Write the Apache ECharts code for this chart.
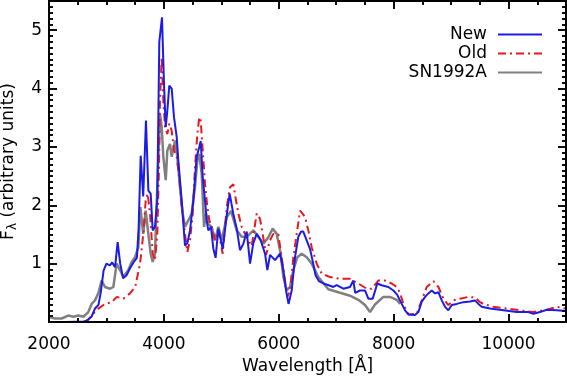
<!DOCTYPE html>
<html>
<head>
<meta charset="utf-8">
<script src="https://cdn.jsdelivr.net/npm/echarts@6/dist/echarts.min.js"></script>
</head>
<body style="margin:0">
<div id="chart" style="width:567px;height:376px"></div>
<script>
// New model spectrum
const newWave = [2000, 2300, 2600, 2650, 2740, 2800, 2860, 2900, 2950, 3000, 3060, 3100, 3150, 3195, 3240, 3290, 3350, 3410, 3470, 3530, 3560, 3596, 3640, 3688, 3730, 3770, 3805, 3845, 3885, 3920, 3967, 4002, 4032, 4060, 4094, 4136, 4176, 4223, 4251, 4310, 4367, 4408, 4455, 4512, 4571, 4616, 4641, 4676, 4716, 4745, 4773, 4820, 4860, 4900, 4948, 5024, 5094, 5145, 5209, 5268, 5325, 5383, 5442, 5500, 5557, 5616, 5685, 5761, 5801, 5848, 5935, 6022, 6080, 6126, 6170, 6225, 6283, 6340, 6390, 6427, 6486, 6544, 6600, 6640, 6700, 6776, 6870, 6950, 7008, 7124, 7240, 7298, 7330, 7414, 7501, 7559, 7635, 7716, 7792, 7908, 7995, 8060, 8140, 8198, 8256, 8372, 8430, 8489, 8547, 8604, 8663, 8721, 8779, 8837, 8895, 8952, 9011, 9098, 9213, 9330, 9417, 9475, 9533, 9678, 9910, 10142, 10345, 10432, 10548, 10665, 10838, 11000];
const newFlux = [0.0, 0.0, 0.01, 0.02, 0.09, 0.23, 0.29, 0.5, 0.88, 1.0, 0.97, 1.02, 0.94, 1.37, 1.0, 0.75, 0.8, 0.92, 1.02, 1.1, 1.6, 2.85, 2.15, 3.45, 2.25, 2.2, 1.57, 1.63, 2.1, 4.8, 5.22, 4.08, 3.34, 3.62, 4.05, 4.0, 3.51, 3.17, 2.77, 2.08, 1.31, 1.35, 1.57, 2.08, 2.83, 3.0, 3.1, 2.48, 2.08, 1.74, 1.57, 1.63, 1.26, 1.1, 1.6, 1.25, 1.83, 2.2, 1.85, 1.6, 1.23, 1.34, 1.55, 1.0, 1.35, 1.51, 1.4, 1.17, 0.89, 1.15, 1.06, 1.17, 0.89, 0.54, 0.31, 0.54, 1.11, 1.46, 1.55, 1.55, 1.4, 1.25, 1.0, 0.8, 0.7, 0.66, 0.63, 0.6, 0.63, 0.57, 0.6, 0.71, 0.5, 0.54, 0.54, 0.4, 0.4, 0.66, 0.63, 0.6, 0.54, 0.47, 0.31, 0.2, 0.13, 0.12, 0.17, 0.35, 0.43, 0.49, 0.54, 0.49, 0.51, 0.37, 0.26, 0.2, 0.29, 0.31, 0.34, 0.35, 0.37, 0.31, 0.26, 0.23, 0.2, 0.17, 0.17, 0.14, 0.17, 0.21, 0.2, 0.19];

// Old model spectrum
const oldWave = [2000, 2600, 2680, 2740, 2860, 2975, 3090, 3180, 3294, 3410, 3500, 3585, 3641, 3683, 3718, 3758, 3805, 3845, 3885, 3915, 3932, 3962, 3990, 4020, 4060, 4094, 4136, 4176, 4223, 4268, 4310, 4367, 4408, 4455, 4502, 4542, 4582, 4616, 4641, 4676, 4716, 4756, 4791, 4832, 4890, 4948, 5024, 5094, 5151, 5209, 5256, 5296, 5354, 5412, 5470, 5528, 5616, 5673, 5720, 5778, 5848, 5905, 5992, 6050, 6091, 6149, 6196, 6254, 6312, 6370, 6399, 6457, 6515, 6573, 6660, 6747, 6892, 7066, 7240, 7385, 7530, 7617, 7733, 7850, 7966, 8053, 8110, 8169, 8256, 8401, 8489, 8576, 8692, 8779, 8866, 8952, 9040, 9156, 9301, 9417, 9504, 9562, 9736, 9968, 10200, 10432, 10665, 10838, 11000];
const oldFlux = [0.0, 0.0, 0.03, 0.11, 0.23, 0.31, 0.34, 0.43, 0.4, 0.49, 0.6, 1.0, 1.5, 2.08, 2.2, 1.86, 1.17, 1.06, 1.51, 2.65, 3.8, 4.54, 3.8, 3.34, 3.22, 3.4, 3.28, 2.94, 2.83, 2.48, 1.97, 1.51, 1.2, 1.4, 1.86, 2.65, 3.22, 3.51, 3.45, 2.94, 2.37, 1.97, 1.74, 1.63, 1.4, 1.57, 1.17, 1.97, 2.31, 2.36, 2.08, 1.86, 1.63, 1.51, 1.4, 1.3, 1.86, 1.77, 1.51, 1.15, 1.4, 1.51, 1.5, 1.11, 0.83, 0.43, 0.54, 1.11, 1.51, 1.91, 1.91, 1.8, 1.57, 1.28, 1.0, 0.83, 0.77, 0.74, 0.74, 0.66, 0.57, 0.57, 0.71, 0.71, 0.66, 0.6, 0.5, 0.31, 0.13, 0.14, 0.37, 0.6, 0.7, 0.6, 0.4, 0.29, 0.37, 0.4, 0.43, 0.42, 0.34, 0.31, 0.26, 0.23, 0.2, 0.17, 0.21, 0.26, 0.23];

// SN1992A observed spectrum
const obsWave = [2000, 2100, 2220, 2336, 2423, 2510, 2597, 2684, 2742, 2800, 2858, 2917, 2975, 3062, 3120, 3178, 3236, 3294, 3381, 3439, 3497, 3555, 3590, 3641, 3683, 3729, 3770, 3805, 3845, 3885, 3932, 3962, 3990, 4032, 4060, 4106, 4136, 4194, 4234, 4280, 4327, 4367, 4425, 4484, 4542, 4582, 4616, 4658, 4699, 4734, 4773, 4832, 4890, 4948, 5006, 5094, 5170, 5268, 5354, 5442, 5557, 5645, 5731, 5818, 5894, 5964, 6033, 6080, 6138, 6196, 6254, 6323, 6399, 6486, 6573, 6689, 6863, 7066, 7240, 7385, 7501, 7588, 7675, 7820, 7937, 8053, 8111];
const obsFlux = [0.09, 0.06, 0.06, 0.11, 0.09, 0.11, 0.09, 0.17, 0.31, 0.37, 0.49, 0.71, 0.6, 0.57, 0.6, 1.0, 0.89, 0.77, 0.89, 1.03, 1.11, 1.28, 1.97, 1.51, 1.91, 1.51, 1.17, 1.03, 1.17, 2.31, 3.57, 3.34, 2.83, 2.43, 2.94, 3.05, 2.83, 3.11, 2.83, 2.31, 1.86, 1.63, 1.74, 1.86, 2.31, 2.77, 2.88, 2.54, 1.63, 1.86, 1.68, 1.63, 1.4, 1.63, 1.4, 1.8, 1.9, 1.57, 1.46, 1.46, 1.57, 1.46, 1.34, 1.45, 1.6, 1.51, 1.17, 0.77, 0.54, 0.6, 0.89, 1.11, 1.17, 1.11, 1.0, 0.77, 0.56, 0.5, 0.45, 0.38, 0.29, 0.17, 0.3, 0.43, 0.43, 0.38, 0.31];

const xTicks = [2000, 11000, 2000]; // min, max, step
const yTicks = [0, 5.5, 1];

const zip = (a, b) => a.map((v, i) => [v, b[i]]);
const font = "DejaVu Sans";

const frame = { show: true, onZero: false, lineStyle: { color: "#000", width: 2 } };
const mk = () => ({ show: true, inside: true, length: 8, lineStyle: { color: "#000", width: 1.5 } });
const mn = (n) => ({ show: true, splitNumber: n, length: 4, lineStyle: { color: "#000", width: 1.5 } });

// second grid on the same rect, axes only, carries the tick marks
const tickAxis = (pos, range, n, grid) => ({
	type: "value", gridIndex: grid, position: pos, z: 10,
	min: range[0], max: range[1], interval: range[2],
	axisLine: { show: true, onZero: false, lineStyle: { color: "#000", width: 2 } },
	axisTick: mk(), minorTick: mn(n), splitLine: { show: false },
	axisLabel: { show: false },
});

const chart = echarts.init(document.getElementById("chart"));

const option = {
	animation: false,
	grid: [
		{ left: 49, right: 1, top: 1, bottom: 54, outerBoundsMode: "none" },
		{ left: 49, right: 1, top: 1, bottom: 54, outerBoundsMode: "none" },
	],
	legend: {
		orient: "vertical",
		right: 19,
		top: 21,
		align: "right",
		itemWidth: 44,
		itemHeight: 2,
		itemGap: 2,
		itemStyle: { opacity: 0 },
		textStyle: { fontFamily: font, fontSize: 17, color: "#000", padding: [0, 6, 0, 0] },
		data: ["New", "Old", "SN1992A"],
	},
	xAxis: [
		{
			type: "value", gridIndex: 0, min: xTicks[0], max: xTicks[1], interval: xTicks[2], position: "bottom",
			axisLine: frame, axisTick: mk(), minorTick: mn(4), splitLine: { show: false },
			axisLabel: { fontFamily: font, fontSize: 17, color: "#000", margin: 14, showMaxLabel: false, formatter: (v) => String(v) },
			name: "Wavelength [Å]",
			nameLocation: "middle",
			nameGap: 32,
			nameTextStyle: { fontFamily: font, fontSize: 17, color: "#000" },
		},
		{
			type: "value", gridIndex: 0, min: xTicks[0], max: xTicks[1], interval: xTicks[2], position: "top",
			axisLine: frame, axisTick: mk(), minorTick: mn(4), splitLine: { show: false },
			axisLabel: { show: false },
		},
		tickAxis("bottom", xTicks, 4, 1),
		tickAxis("top", xTicks, 4, 1),
	],
	yAxis: [
		{
			type: "value", gridIndex: 0, min: yTicks[0], max: yTicks[1], interval: yTicks[2], position: "left",
			axisLine: frame, axisTick: mk(), minorTick: mn(10), splitLine: { show: false },
			axisLabel: { fontFamily: font, fontSize: 17, color: "#000", margin: 7, showMinLabel: false, showMaxLabel: false, formatter: (v) => String(v) },
			name: "F{sub|λ} (arbitrary units)",
			nameLocation: "middle",
			nameGap: 30,
			nameTextStyle: {
				fontFamily: font, fontSize: 17, color: "#000",
				rich: { sub: { fontFamily: font, fontSize: 12, padding: [8, 0, 0, 0] } },
			},
		},
		{
			type: "value", gridIndex: 0, min: yTicks[0], max: yTicks[1], interval: yTicks[2], position: "right",
			axisLine: frame, axisTick: mk(), minorTick: mn(10), splitLine: { show: false },
			axisLabel: { show: false },
		},
		tickAxis("left", yTicks, 10, 1),
		tickAxis("right", yTicks, 10, 1),
	],
	series: [
		{
			name: "SN1992A",
			type: "line",
			xAxisIndex: 0,
			yAxisIndex: 0,
			symbol: "none",
			data: zip(obsWave, obsFlux),
			itemStyle: { color: "#808080" },
			lineStyle: { color: "#808080", width: 2.5 },
		},
		{
			name: "Old",
			type: "line",
			xAxisIndex: 0,
			yAxisIndex: 0,
			symbol: "none",
			data: zip(oldWave, oldFlux),
			itemStyle: { color: "#e8191e" },
			lineStyle: { color: "#e8191e", width: 2, type: [8, 4, 2, 4] },
		},
		{
			name: "New",
			type: "line",
			xAxisIndex: 0,
			yAxisIndex: 0,
			symbol: "none",
			data: zip(newWave, newFlux),
			itemStyle: { color: "#1c1ce6" },
			lineStyle: { color: "#1c1ce6", width: 2 },
		},
	],
};

chart.setOption(option);
</script>
</body>
</html>
